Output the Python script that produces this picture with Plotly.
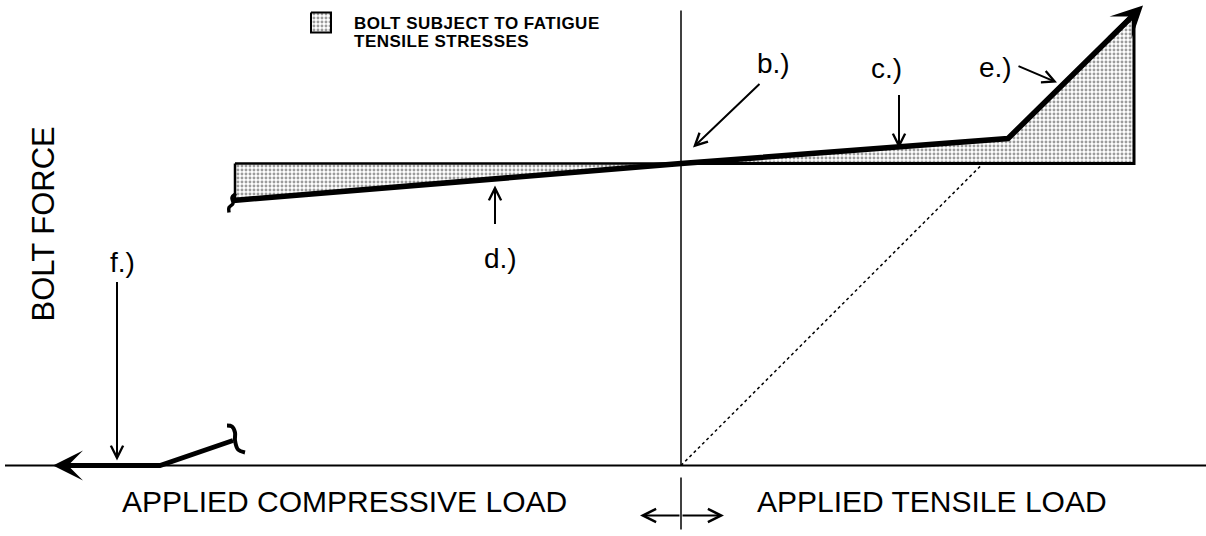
import numpy as np
import plotly.graph_objects as go

# ---------------- data (schematic units: external load vs. bolt force) ----------------
axis_load = [-676, 525]            # extent of the applied-load axis
axis_force = [0, 455]              # extent of the bolt-force axis
preload = 302                      # bolt preload level
bolt_load = [-448, 0, 327, 462]    # bolt force curve: load values
bolt_force = [265, 302, 327, 460]  # bolt force curve: force values
separation_load = [0, 302]         # dotted external-load line
separation_force = [0, 302]
comp_load = [-448, -521, -628]     # compressive overload branch (f.)
comp_force = [25, 0, 0]
left_zone_edge = -446              # left end of compressive fatigue zone
right_zone_edge = 453              # right end of tensile fatigue zone
break1_load = [-445, -449, -448, -452, -452]
break1_force = [272, 268, 262, 258, 253]
break2_load = [-454, -449, -446, -446, -443, -436]
break2_force = [40, 39, 33, 25, 16, 13]

labels = ["b.)", "c.)", "d.)", "e.)", "f.)"]
label_x = [92, 205, -181, 314, -559]
label_y = [402, 397, 207, 398, 203]
arrow_tail_x = [80, 218, -186, 336, -564]
arrow_tail_y = [383, 372, 240, 400, 185]
arrow_head_x = [12, 218, -186, 376, -564]
arrow_head_y = [318, 317, 280, 383, 5]

legend_text = ["BOLT SUBJECT TO FATIGUE", "TENSILE STRESSES"]
axis_titles = ["BOLT FORCE", "APPLIED COMPRESSIVE LOAD", "APPLIED TENSILE LOAD"]

FONT = "Liberation Sans, Arial, sans-serif"
pattern = dict(shape=".", fgcolor="#3a3a3a", bgcolor="#ffffff", size=4, solidity=0.42)

fig = go.Figure()

# fatigue zones
lz_x = [left_zone_edge, 0, left_zone_edge, left_zone_edge]
lz_y = [preload, preload, float(np.interp(left_zone_edge, bolt_load, bolt_force)), preload]
fig.add_trace(go.Scatter(x=lz_x, y=lz_y, mode="lines", fill="toself", fillpattern=pattern,
                         line=dict(color="black", width=2.5), hoverinfo="skip"))
top_r = float(np.interp(right_zone_edge, bolt_load, bolt_force))
rz_x = [0, bolt_load[2], right_zone_edge, right_zone_edge, 0]
rz_y = [preload, bolt_force[2], top_r, preload, preload]
fig.add_trace(go.Scatter(x=rz_x, y=rz_y, mode="lines", fill="toself", fillpattern=pattern,
                         line=dict(color="black", width=3), hoverinfo="skip"))

# axes
fig.add_trace(go.Scatter(x=axis_load, y=[0, 0], mode="lines",
                         line=dict(color="black", width=2), hoverinfo="skip"))
fig.add_trace(go.Scatter(x=[0, 0], y=axis_force, mode="lines",
                         line=dict(color="black", width=1.5), hoverinfo="skip"))
fig.add_trace(go.Scatter(x=[0, 0], y=[-12, -64], mode="lines",
                         line=dict(color="black", width=1.5), hoverinfo="skip"))

# dotted separation line
fig.add_trace(go.Scatter(x=separation_load, y=separation_force, mode="lines",
                         line=dict(color="black", width=1.5, dash="dot"), hoverinfo="skip"))

# bolt force curve
fig.add_trace(go.Scatter(x=bolt_load[:-1] + [bolt_load[-1] - 8], y=bolt_force[:-1] + [bolt_force[-1] - 8],
                         mode="lines", line=dict(color="black", width=5.5), hoverinfo="skip"))
fig.add_trace(go.Scatter(x=comp_load[:-1] + [comp_load[-1] + 8], y=comp_force, mode="lines",
                         line=dict(color="black", width=5), hoverinfo="skip"))
fig.add_trace(go.Scatter(x=break1_load, y=break1_force, mode="lines",
                         line=dict(color="black", width=3.5, shape="spline"), hoverinfo="skip"))
fig.add_trace(go.Scatter(x=break2_load, y=break2_force, mode="lines",
                         line=dict(color="black", width=4, shape="spline"), hoverinfo="skip"))

# legend swatch
fig.add_trace(go.Scatter(x=[-370, -350, -350, -370, -370], y=[453, 453, 433, 433, 453],
                         mode="lines", fill="toself", fillpattern=pattern,
                         line=dict(color="black", width=2), hoverinfo="skip"))

ann = []
# big arrowheads
ann.append(dict(x=bolt_load[-1], y=bolt_force[-1], ax=bolt_load[-2] + 100, ay=bolt_force[-2] + 98.5,
                xref="x", yref="y", axref="x", ayref="y", text="", showarrow=True,
                arrowhead=3, arrowwidth=5, arrowsize=1.05, arrowcolor="black", standoff=0))
ann.append(dict(x=comp_load[-1], y=comp_force[-1], ax=comp_load[-2], ay=comp_force[-2],
                xref="x", yref="y", axref="x", ayref="y", text="", showarrow=True,
                arrowhead=3, arrowwidth=5, arrowsize=1.0, arrowcolor="black", standoff=0))
# labels with pointer arrows
for t, lx, ly, tx, ty, hx, hy in zip(labels, label_x, label_y, arrow_tail_x, arrow_tail_y,
                                     arrow_head_x, arrow_head_y):
    ann.append(dict(x=lx, y=ly, xref="x", yref="y", text=t, showarrow=False,
                    font=dict(family=FONT, size=28, color="black")))
    ann.append(dict(x=hx, y=hy, ax=tx, ay=ty, xref="x", yref="y", axref="x", ayref="y",
                    text="", showarrow=True, arrowhead=5, arrowwidth=2, arrowsize=1.2,
                    arrowcolor="black", standoff=0))
# double arrow under origin
for end in (-41, 43):
    ann.append(dict(x=end, y=-50, ax=0, ay=-50, xref="x", yref="y", axref="x", ayref="y",
                    text="", showarrow=True, arrowhead=5, arrowwidth=2, arrowsize=1.3,
                    arrowcolor="black", standoff=0))
# legend text (one text block, tight line spacing)
leg_html = "<br>".join('<span style="font-size:17px;letter-spacing:0.5px"><b>%s</b></span>' % s
                       for s in legend_text)
ann.append(dict(x=-329, y=433.5, xref="x", yref="y", text=leg_html, align="left",
                xanchor="left", yanchor="middle", showarrow=False,
                font=dict(family=FONT, size=13.9, color="black")))
# axis titles
ann.append(dict(x=-638, y=241, xref="x", yref="y", text=axis_titles[0], textangle=-90,
                showarrow=False, font=dict(family=FONT, size=31, color="black")))
ann.append(dict(x=-337, y=-36, xref="x", yref="y", text=axis_titles[1],
                showarrow=False, font=dict(family=FONT, size=30, color="black")))
ann.append(dict(x=251, y=-36, xref="x", yref="y", text=axis_titles[2],
                showarrow=False, font=dict(family=FONT, size=30, color="black")))

fig.update_layout(
    width=1206, height=536, margin=dict(l=0, r=0, t=0, b=0),
    paper_bgcolor="white", plot_bgcolor="white", showlegend=False,
    xaxis=dict(range=[-681, 525], visible=False, fixedrange=True),
    yaxis=dict(range=[-70.5, 465.5], visible=False, fixedrange=True),
    annotations=ann,
)
fig.write_html("out.html", config={"displayModeBar": False},
               post_script="document.body.style.margin='0px';")
